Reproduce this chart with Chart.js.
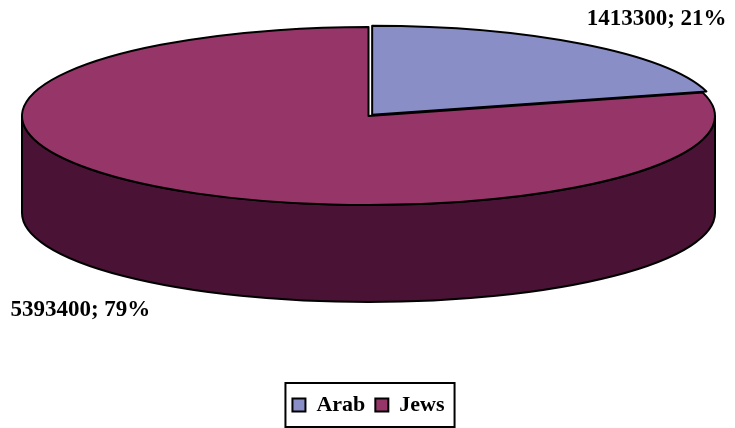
<!DOCTYPE html>
<html>
<head>
<meta charset="utf-8">
<script src="https://cdn.jsdelivr.net/npm/chart.js@4.4.1/dist/chart.umd.min.js"></script>
<style>
  html, body { margin:0; padding:0; background:#fff; }
</style>
</head>
<body>
<canvas id="pie" width="735" height="428"></canvas>
<script>
const CATEGORIES = ["Arab", "Jews"];
const POPULATION = [1413300, 5393400];
const TOP_COLORS = ["#8A8EC7", "#963668"];
const SIDE_COLORS = ["#3F4170", "#4A1234"];
const EXPLODE = [12, 0];

const TILT = 0.257;    // ry / rx of the top ellipse
const DEPTH = 0.28;    // side height / rx
const LABEL_R = 1.37;  // label distance, in radii
const FONT = "'Liberation Serif', 'Times New Roman', serif";

// maps chart.js circle geometry onto the tilted ellipse
function pieGeom(chart){
  const el0 = chart.getDatasetMeta(0).data[0];
  const a = chart.chartArea;
  const rx = a.width / 2, ry = rx * TILT;
  return {
    ox: el0.x, oy: el0.y, r: el0.outerRadius,
    cx: (a.left + a.right) / 2, cy: a.top + ry,
    rx, ry, depth: rx * DEPTH,
    sx: rx / el0.outerRadius, sy: ry / el0.outerRadius
  };
}

function shift(el, g){
  const off = (el.options.offset || 0) / 4;
  const mid = (el.startAngle + el.endAngle) / 2;
  return { x: Math.cos(mid) * off * g.sx, y: Math.sin(mid) * off * g.sy };
}

const pie3d = {
  id: "pie3d",
  beforeDatasetsDraw(chart){
    const g = pieGeom(chart), ctx = chart.ctx;
    const meta = chart.getDatasetMeta(0);
    ctx.save();
    ctx.lineWidth = 2; ctx.strokeStyle = "#000"; ctx.lineJoin = "round";
    meta.data.forEach((el, i) => {
      const s = shift(el, g);
      for (let k = -1; k <= 1; k++){
        const lo = Math.max(el.startAngle, 2 * Math.PI * k);
        const hi = Math.min(el.endAngle, 2 * Math.PI * k + Math.PI);
        if (hi <= lo) continue;
        const x = g.cx + s.x, y = g.cy + s.y;
        ctx.beginPath();
        ctx.ellipse(x, y, g.rx, g.ry, 0, lo, hi);
        ctx.ellipse(x, y + g.depth, g.rx, g.ry, 0, hi, lo, true);
        ctx.closePath();
        ctx.fillStyle = SIDE_COLORS[i];
        ctx.fill();
        ctx.stroke();
      }
    });
    ctx.restore();
    ctx.save();
    ctx.translate(g.cx, g.cy);
    ctx.scale(g.sx, g.sy);
    ctx.translate(-g.ox, -g.oy);
  },
  afterDatasetsDraw(chart){
    const ctx = chart.ctx;
    ctx.restore();
    const g = pieGeom(chart);
    const meta = chart.getDatasetMeta(0);
    ctx.save();
    ctx.lineWidth = 2; ctx.strokeStyle = "#000"; ctx.lineJoin = "round";
    meta.data.forEach(el => {
      const s = shift(el, g);
      const x = g.cx + s.x, y = g.cy + s.y;
      ctx.beginPath();
      ctx.moveTo(x, y);
      ctx.ellipse(x, y, g.rx, g.ry, 0, el.startAngle, el.endAngle);
      ctx.closePath();
      ctx.stroke();
    });
    ctx.restore();
  },
  afterDraw(chart){
    const ctx = chart.ctx, g = pieGeom(chart);
    const meta = chart.getDatasetMeta(0);
    const total = POPULATION.reduce((a, b) => a + b, 0);
    ctx.save();
    ctx.font = `bold 23px ${FONT}`;
    ctx.fillStyle = "#000";
    ctx.textAlign = "center";
    ctx.textBaseline = "middle";
    meta.data.forEach((el, i) => {
      const mid = (el.startAngle + el.endAngle) / 2;
      const x = g.cx + g.rx * LABEL_R * Math.cos(mid);
      let y = g.cy + g.ry * LABEL_R * Math.sin(mid);
      if (Math.sin(mid) > 0) y += g.depth;
      ctx.fillText(`${POPULATION[i]}; ${Math.round(POPULATION[i] / total * 100)}%`, x, y);
    });
    // framed legend
    const hb = chart.legend.legendHitBoxes;
    if (hb && hb.length){
      const last = hb[hb.length - 1];
      const midY = hb[0].top + hb[0].height / 2;
      const left = hb[0].left - 7, right = last.left + last.width + 10;
      ctx.lineWidth = 2; ctx.strokeStyle = "#000";
      ctx.strokeRect(left, midY - 22, right - left, 44);
    }
    ctx.restore();
  }
};

new Chart(document.getElementById("pie"), {
  type: "pie",
  data: {
    labels: CATEGORIES,
    datasets: [{
      data: POPULATION,
      backgroundColor: TOP_COLORS,
      borderWidth: 0,
      offset: EXPLODE,
      clip: false
    }]
  },
  options: {
    responsive: false,
    animation: false,
    events: [],
    layout: { padding: { top: 27, left: 22, right: 20, bottom: 2 } },
    plugins: {
      tooltip: { enabled: false },
      legend: {
        position: "bottom",
        labels: {
          color: "#000",
          boxWidth: 13, boxHeight: 13, padding: 10,
          font: { family: FONT, size: 22, weight: "bold" },
          generateLabels: (chart) => Chart.overrides.doughnut.plugins.legend.labels.generateLabels(chart)
            .map(l => ({ ...l, strokeStyle: "#000", lineWidth: 2 }))
        }
      }
    }
  },
  plugins: [pie3d]
});
</script>
</body>
</html>
